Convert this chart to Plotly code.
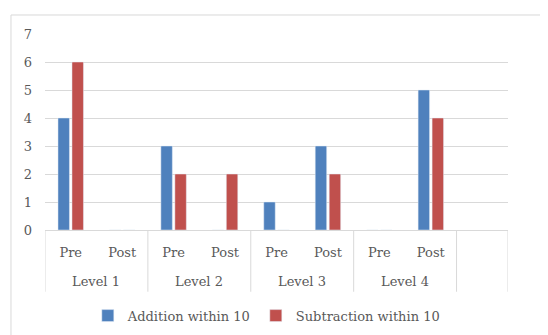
import plotly.graph_objects as go

levels = ["Level 1", "Level 2", "Level 3", "Level 4"]
phases = ["Pre", "Post"]
addition = [4, 0, 3, 0, 1, 3, 0, 5]
subtraction = [6, 0, 2, 2, 0, 2, 0, 4]
series_names = ["Addition within 10", "Subtraction within 10"]
y_ticks = [0, 1, 2, 3, 4, 5, 6, 7]

n_slots = len(levels) * len(phases) + 1  # trailing empty slot
xs = list(range(len(levels) * len(phases)))
tick_text = phases * len(levels)

FONT = "DejaVu Serif"
FS = 13
GRAY = "#595959"
LINE = "#d9d9d9"

fig = go.Figure()
fig.add_trace(go.Bar(x=xs, y=addition, name=series_names[0], marker_color="#4f81bd"))
fig.add_trace(go.Bar(x=xs, y=subtraction, name=series_names[1], marker_color="#c0504d"))

bottom = -0.315
shapes = []
divs = [-0.5 + 2 * i for i in range(len(levels) + 1)] + [n_slots - 0.5]
for d in divs:
    shapes.append(dict(type="line", xref="x", yref="paper", x0=d, x1=d, y0=0, y1=bottom,
                       line=dict(color=LINE, width=1)))
# outer chart border
shapes.append(dict(type="rect", xref="paper", yref="paper", x0=-0.0735, x1=1.2, y0=-0.6, y1=1.097,
                   line=dict(color=LINE, width=1), fillcolor="rgba(0,0,0,0)"))

annotations = []
for i, lv in enumerate(levels):
    annotations.append(dict(x=2 * i + 0.5, y=-0.264, xref="x", yref="paper", text=lv,
                            showarrow=False, font=dict(family=FONT, size=FS, color=GRAY),
                            xanchor="center", yanchor="middle"))

fig.update_layout(
    width=548, height=335,
    margin=dict(l=37, r=48, t=26, b=113, autoexpand=False),
    paper_bgcolor="white", plot_bgcolor="white",
    barmode="group", bargap=0.456, bargroupgap=0.18,
    font=dict(family=FONT, size=FS, color=GRAY),
    shapes=shapes, annotations=annotations,
    legend=dict(orientation="h", x=0.478, xanchor="center", y=-0.437, yanchor="middle",
                font=dict(family=FONT, size=FS, color=GRAY), itemwidth=30,
                traceorder="normal"),
    xaxis=dict(range=[-0.5, n_slots - 0.5], tickmode="array", tickvals=xs, ticktext=tick_text,
               showgrid=False, showline=True, linecolor=LINE, linewidth=1, ticks="",
               ticklabelstandoff=10, zeroline=False, automargin=False,
               tickfont=dict(family=FONT, size=FS, color=GRAY)),
    yaxis=dict(range=[0, 7], tickvals=y_ticks, showgrid=True, gridcolor=LINE, gridwidth=1,
               showline=False, zeroline=False, ticks="", ticklabelstandoff=12, automargin=False,
               tickfont=dict(family=FONT, size=FS, color=GRAY)),
)

fig.write_html("out.html")
